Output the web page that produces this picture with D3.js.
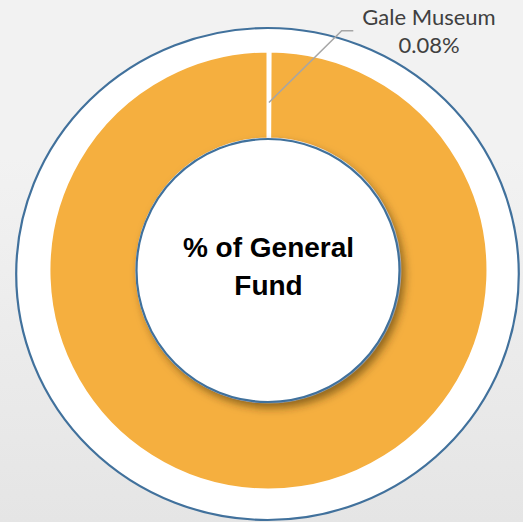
<!DOCTYPE html>
<html>
<head>
<meta charset="utf-8">
<script src="https://cdn.jsdelivr.net/npm/d3@7"></script>
<style>
  html, body { margin: 0; padding: 0; background: #f2f2f2; }
  svg { display: block; }
</style>
</head>
<body>
<svg id="chart" width="523" height="522"></svg>
<script>
// Share of the general fund by department
const categories = ["Gale Museum", "All Other Departments"];
const values = [0.08, 99.92];
const sliceColors = ["#f5af3f", "#f5af3f"];
const labelled = ["Gale Museum"];
const centerTitle = ["% of General", "Fund"];

const W = 523, H = 522;
const cx = 268.5, cy = 270.5;
const outerR = 220, innerR = 131;

const svg = d3.select("#chart");
const defs = svg.append("defs");

const bg = defs.append("linearGradient")
  .attr("id", "bg").attr("x1", 0).attr("y1", 0).attr("x2", 0).attr("y2", 1);
bg.append("stop").attr("offset", "0%").attr("stop-color", "#f2f2f2");
bg.append("stop").attr("offset", "30%").attr("stop-color", "#f2f2f2");
bg.append("stop").attr("offset", "100%").attr("stop-color", "#e5e5e5");

const shadow = defs.append("filter").attr("id", "shadow")
  .attr("x", "-20%").attr("y", "-20%").attr("width", "150%").attr("height", "150%");
shadow.append("feDropShadow")
  .attr("dx", 4).attr("dy", 5).attr("stdDeviation", 4)
  .attr("flood-color", "#3a2a00").attr("flood-opacity", 0.55);

svg.append("rect").attr("width", W).attr("height", H).attr("fill", "url(#bg)");

// Outer frame of the plot area
svg.append("ellipse")
  .attr("cx", 267.5).attr("cy", 274)
  .attr("rx", 251.3).attr("ry", 246)
  .attr("fill", "#ffffff")
  .attr("stroke", "#41719c").attr("stroke-width", 2.2);

const pie = d3.pie().sort(null).value(d => d.value).startAngle(0).endAngle(2 * Math.PI);
const data = categories.map((c, i) => ({ name: c, value: values[i], color: sliceColors[i] }));
const arcs = pie(data);

const arc = d3.arc().innerRadius(innerR).outerRadius(outerR);

const g = svg.append("g").attr("transform", `translate(${cx},${cy})`);

g.selectAll("path.slice")
  .data(arcs)
  .join("path")
  .attr("class", "slice")
  .attr("d", arc)
  .attr("fill", d => d.data.color)
  .attr("stroke", "#ffffff")
  .attr("stroke-width", 4)
  .attr("stroke-linejoin", "miter");

// Leader line and label for the small slice
const leaderArc = d3.arc().innerRadius(168).outerRadius(168);
arcs.filter(d => labelled.includes(d.data.name)).forEach(d => {
  const [sx, sy] = leaderArc.centroid(d);
  const elbow = [341.7 - cx, 30.7 - cy];
  const end = [353.3 - cx, 30.7 - cy];
  g.append("polyline")
    .attr("points", [[sx, sy], elbow, end].map(p => p.join(",")).join(" "))
    .attr("fill", "none")
    .attr("stroke", "#a6a6a6")
    .attr("stroke-width", 1.5);

  const pct = d3.format(".2f")(d.data.value) + "%";
  const lbl = svg.append("text")
    .attr("x", 429).attr("y", 25)
    .attr("text-anchor", "middle")
    .attr("font-family", "Lato, 'Open Sans', sans-serif")
    .attr("font-size", 22)
    .attr("fill", "#404040");
  lbl.append("tspan").attr("x", 429).attr("y", 25).text(d.data.name);
  lbl.append("tspan").attr("x", 429).attr("y", 53).text(pct);
});

// Centre disc with title
svg.append("circle")
  .attr("cx", 268).attr("cy", 270.5).attr("r", 131.5)
  .attr("fill", "#ffffff")
  .attr("stroke", "#41719c").attr("stroke-width", 2.2)
  .attr("filter", "url(#shadow)");

const title = svg.append("text")
  .attr("text-anchor", "middle")
  .attr("font-family", "'Liberation Sans', Arial, sans-serif")
  .attr("font-weight", "bold")
  .attr("font-size", 28)
  .attr("fill", "#000000");
centerTitle.forEach((t, i) => {
  title.append("tspan").attr("x", 268.5).attr("y", 257 + i * 38).text(t);
});
</script>
</body>
</html>
